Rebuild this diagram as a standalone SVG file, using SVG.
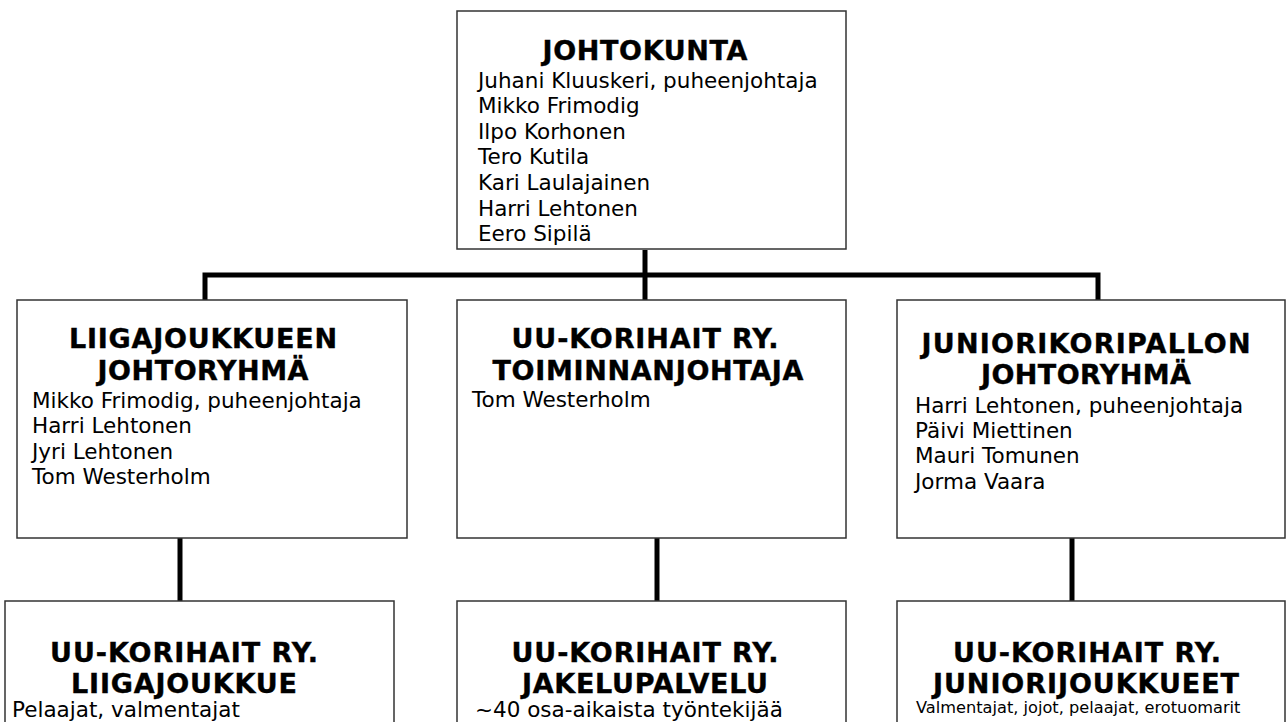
<svg xmlns="http://www.w3.org/2000/svg" width="1286" height="722" viewBox="0 0 1286 722">
<style>
.box{fill:#fff;stroke:#333;stroke-width:1.5}
.t{font-family:"DejaVu Sans",Verdana,sans-serif;font-weight:bold;font-size:27px;fill:#000;stroke:#000;stroke-width:0.4;text-anchor:middle}
.b{font-family:"DejaVu Sans",Verdana,sans-serif;font-size:21.5px;fill:#000}
.s{font-family:"DejaVu Sans",Verdana,sans-serif;font-size:16.2px;fill:#000}
.c{fill:none;stroke:#000;stroke-width:5;stroke-linejoin:miter;stroke-linecap:butt}
</style>
<rect width="1286" height="722" fill="#fff"/>
<g id="connectors">
<path class="c" d="M205,300 V275 H1098 V300"/>
<path class="c" d="M645,250 V300"/>
<path class="c" d="M180,538 V601"/>
<path class="c" d="M657,538 V601"/>
<path class="c" d="M1072,538 V601"/>
</g>
<g id="johtokunta">
<rect class="box" x="457" y="11" width="389" height="238"/>
<text class="t" x="645" y="60" textLength="205" lengthAdjust="spacing">JOHTOKUNTA</text>
<text class="b" x="478" y="88">Juhani Kluuskeri, puheenjohtaja</text>
<text class="b" x="478" y="113">Mikko Frimodig</text>
<text class="b" x="478" y="139">Ilpo Korhonen</text>
<text class="b" x="478" y="164">Tero Kutila</text>
<text class="b" x="478" y="190">Kari Laulajainen</text>
<text class="b" x="478" y="216">Harri Lehtonen</text>
<text class="b" x="478" y="241">Eero Sipilä</text>
</g>
<g id="liigajoukkueen-johtoryhma">
<rect class="box" x="17" y="300" width="390" height="238"/>
<text class="t" x="203" y="348" textLength="268" lengthAdjust="spacing">LIIGAJOUKKUEEN</text>
<text class="t" x="203" y="380" textLength="211" lengthAdjust="spacing">JOHTORYHMÄ</text>
<text class="b" x="32" y="408">Mikko Frimodig, puheenjohtaja</text>
<text class="b" x="32" y="433">Harri Lehtonen</text>
<text class="b" x="32" y="459">Jyri Lehtonen</text>
<text class="b" x="32" y="484">Tom Westerholm</text>
</g>
<g id="toiminnanjohtaja">
<rect class="box" x="457" y="300" width="389" height="238"/>
<text class="t" x="645" y="348" textLength="267" lengthAdjust="spacing">UU-KORIHAIT RY.</text>
<text class="t" x="648" y="380" textLength="311" lengthAdjust="spacing">TOIMINNANJOHTAJA</text>
<text class="b" x="472" y="407">Tom Westerholm</text>
</g>
<g id="juniorikoripallon-johtoryhma">
<rect class="box" x="897" y="300" width="388" height="238"/>
<text class="t" x="1086" y="353" textLength="329" lengthAdjust="spacing">JUNIORIKORIPALLON</text>
<text class="t" x="1086" y="384" textLength="210" lengthAdjust="spacing">JOHTORYHMÄ</text>
<text class="b" x="915" y="413">Harri Lehtonen, puheenjohtaja</text>
<text class="b" x="915" y="438">Päivi Miettinen</text>
<text class="b" x="915" y="463">Mauri Tomunen</text>
<text class="b" x="915" y="489">Jorma Vaara</text>
</g>
<g id="liigajoukkue">
<rect class="box" x="5" y="601" width="389" height="140"/>
<text class="t" x="184" y="662" textLength="268" lengthAdjust="spacing">UU-KORIHAIT RY.</text>
<text class="t" x="184" y="693" textLength="226" lengthAdjust="spacing">LIIGAJOUKKUE</text>
<text class="b" x="12" y="717">Pelaajat, valmentajat</text>
</g>
<g id="jakelupalvelu">
<rect class="box" x="457" y="601" width="389" height="140"/>
<text class="t" x="645" y="662" textLength="267" lengthAdjust="spacing">UU-KORIHAIT RY.</text>
<text class="t" x="645" y="693" textLength="246" lengthAdjust="spacing">JAKELUPALVELU</text>
<text class="b" x="475" y="717">~40 osa-aikaista työntekijää</text>
</g>
<g id="juniorijoukkueet">
<rect class="box" x="897" y="601" width="388" height="140"/>
<text class="t" x="1087" y="662" textLength="268" lengthAdjust="spacing">UU-KORIHAIT RY.</text>
<text class="t" x="1086" y="693" textLength="306" lengthAdjust="spacing">JUNIORIJOUKKUEET</text>
<text class="s" x="916" y="713">Valmentajat, jojot, pelaajat, erotuomarit</text>
</g>
</svg>
